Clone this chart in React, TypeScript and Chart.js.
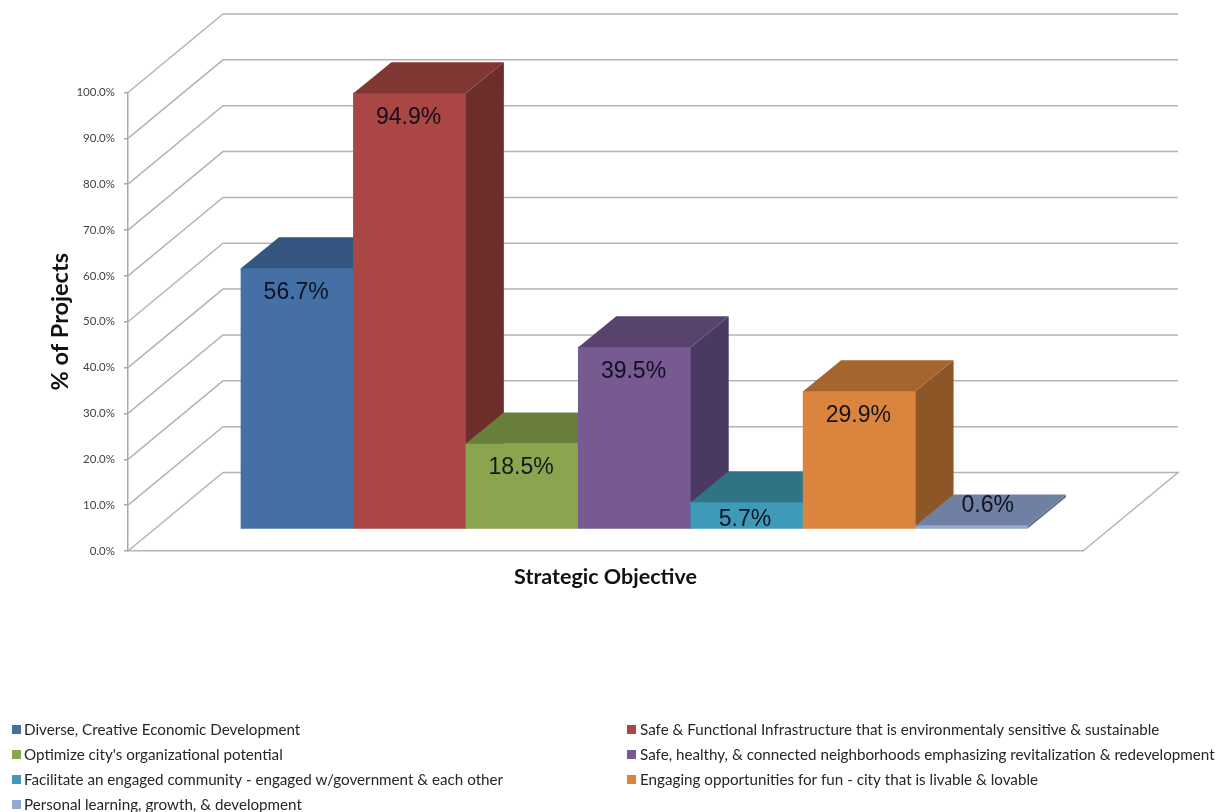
import React, { useEffect, useRef } from "react";
import { Chart, registerables } from "chart.js";

Chart.register(...registerables);

const objectives = [
  "Diverse, Creative Economic Development",
  "Safe & Functional Infrastructure that is environmentaly sensitive & sustainable",
  "Optimize city's organizational potential",
  "Safe, healthy, & connected neighborhoods emphasizing revitalization & redevelopment",
  "Facilitate an engaged community - engaged w/government & each other",
  "Engaging opportunities for fun - city that is livable & lovable",
  "Personal learning, growth, & development",
];
const percentages = [56.7, 94.9, 18.5, 39.5, 5.7, 29.9, 0.6];
const yTickValues = [0, 10, 20, 30, 40, 50, 60, 70, 80, 90, 100];

const frontColors = ["#4470a5", "#aa4643", "#89a54e", "#775a92", "#3f9ab8", "#db843d", "#93a9cf"];
const topColors = ["#34557f", "#803632", "#6a7f3c", "#58436f", "#2f7485", "#a6652e", "#6f80a2"];
const sideColors = ["#2e4a6e", "#6d2d2a", "#5b6d33", "#4a3960", "#286472", "#8d5627", "#5f6f8c"];

const AREA = { left: 128, right: 1083, top: 92.5, bottom: 551 };
const WALL = { dx: 95, dy: 78.5 };
const BAR_DEPTH = { dx: 38, dy: 31 };
const LEGEND_X = [12, 627];
const LEGEND_Y = [730, 755, 780, 805];

const cube3d = {
  id: "cube3d",
  beforeDatasetsDraw(chart: any) {
    const { ctx } = chart;
    const y = chart.scales.y;
    const left = AREA.left;
    ctx.save();
    ctx.strokeStyle = "#b4b4b4";
    ctx.lineWidth = 1.5;
    for (const v of yTickValues) {
      const py = y.getPixelForValue(v);
      ctx.beginPath();
      ctx.moveTo(left, py);
      ctx.lineTo(left + WALL.dx, py - WALL.dy);
      ctx.lineTo(AREA.right + WALL.dx, py - WALL.dy);
      if (v === 0) ctx.lineTo(AREA.right, py);
      ctx.stroke();
    }
    ctx.restore();
  },
  afterDatasetDraw(chart: any, args: any) {
    const { ctx } = chart;
    const bar = chart.getDatasetMeta(args.index).data[0];
    const i = args.index;
    const l = bar.x - bar.width / 2;
    const r = bar.x + bar.width / 2;
    const t = bar.y;
    const b = bar.base;
    const { dx, dy } = BAR_DEPTH;
    ctx.save();
    ctx.fillStyle = sideColors[i];
    ctx.beginPath();
    ctx.moveTo(r, t);
    ctx.lineTo(r + dx, t - dy);
    ctx.lineTo(r + dx, b - dy);
    ctx.lineTo(r, b);
    ctx.closePath();
    ctx.fill();
    ctx.fillStyle = topColors[i];
    ctx.beginPath();
    ctx.moveTo(l, t);
    ctx.lineTo(l + dx, t - dy);
    ctx.lineTo(r + dx, t - dy);
    ctx.lineTo(r, t);
    ctx.closePath();
    ctx.fill();
    ctx.restore();
  },
  afterDatasetsDraw(chart: any) {
    const { ctx } = chart;
    ctx.save();
    ctx.font = '23px "Liberation Sans"';
    ctx.textAlign = "center";
    ctx.textBaseline = "middle";
    ctx.fillStyle = "rgba(10,10,25,0.92)";
    chart.data.datasets.forEach((_: any, i: number) => {
      const bar = chart.getDatasetMeta(i).data[0];
      const h = bar.base - bar.y;
      let lx = bar.x - 1;
      let ly = bar.y + 24;
      if (h < 10) {
        lx = bar.x + BAR_DEPTH.dx / 2 - 3;
        ly = bar.y - 20;
      } else if (h < 40) {
        lx = bar.x - 2;
        ly = bar.base - 9;
      }
      ctx.fillText(percentages[i].toFixed(1) + "%", lx, ly);
    });
    ctx.restore();

    // two-column legend
    ctx.save();
    ctx.font = "15.2px Lato";
    ctx.textBaseline = "middle";
    ctx.textAlign = "left";
    chart.data.datasets.forEach((ds: any, i: number) => {
      const col = i % 2;
      const row = Math.floor(i / 2);
      const x = LEGEND_X[col];
      const yy = LEGEND_Y[row];
      ctx.fillStyle = frontColors[i];
      ctx.fillRect(x, yy - 5, 9, 9);
      ctx.fillStyle = "#262626";
      ctx.fillText(ds.label, x + 12 + col, yy);
    });
    ctx.restore();
  },
};

export default function App() {
  const ref = useRef<HTMLCanvasElement>(null);
  useEffect(() => {
    document.body.style.margin = "0";
    const pxPerY = (AREA.bottom - AREA.top) / 100;
    const barFloorOffset = (AREA.bottom - 528.3) / pxPerY;
    const pxPerBar = 112.43;
    const firstCenter = 297.2;
    const chart = new Chart(ref.current!, {
      type: "bar",
      data: {
        datasets: objectives.map((label, i) => ({
          label,
          data: [{ x: i, y: percentages[i] }],
          backgroundColor: frontColors[i],
          borderWidth: 0,
          yAxisID: "yBars",
          order: objectives.length - i,
          grouped: false,
          categoryPercentage: 1,
          barPercentage: 1,
        })),
      } as any,
      plugins: [cube3d],
      options: {
        responsive: false,
        animation: false,
        devicePixelRatio: 1,
        layout: {
          padding: {
            left: 0,
            top: AREA.top,
            right: 1225 - AREA.right,
            bottom: 812 - AREA.bottom - 40,
          },
        },
        plugins: { legend: { display: false }, tooltip: { enabled: false } },
        scales: {
          x: {
            type: "linear",
            offset: false,
            min: (AREA.left - firstCenter) / pxPerBar,
            max: (AREA.right - firstCenter) / pxPerBar,
            grid: { display: false },
            border: { display: true, color: "#b4b4b4", width: 1.5 },
            ticks: { display: false },
            title: {
              display: true,
              text: "Strategic Objective",
              font: { family: "Lato", weight: "bold", size: 21.5 },
              color: "#111",
              padding: { top: 0, bottom: 1 },
            },
            afterFit(s: any) {
              s.height = 40;
              s.paddingLeft = s.paddingRight = 0;
            },
          },
          y: {
            type: "linear",
            position: "left",
            min: 0,
            max: 100,
            afterBuildTicks(s: any) {
              s.ticks = yTickValues.map((value) => ({ value }));
            },
            grid: { drawOnChartArea: false, drawTicks: true, tickLength: 4, color: "#a8a8a8", lineWidth: 1.5 },
            border: { display: true, color: "#a8a8a8", width: 1.5 },
            ticks: {
              padding: 9,
              color: "#444",
              font: { family: "Lato", size: 11.5 },
              callback: (v: any) => Number(v).toFixed(1) + "%",
            },
            title: {
              display: true,
              text: "% of Projects",
              font: { family: "Lato", weight: "bold", size: 23.5 },
              color: "#111",
              padding: { top: 46, bottom: 0 },
            },
            afterFit(s: any) {
              s.width = AREA.left;
              s.paddingTop = s.paddingBottom = 0;
            },
          },
          yBars: {
            type: "linear",
            position: "left",
            display: false,
            min: -barFloorOffset,
            max: 100 - barFloorOffset,
          },
        },
      } as any,
    });
    return () => chart.destroy();
  }, []);
  return <canvas ref={ref} width={1225} height={812} style={{ display: "block" }} />;
}
